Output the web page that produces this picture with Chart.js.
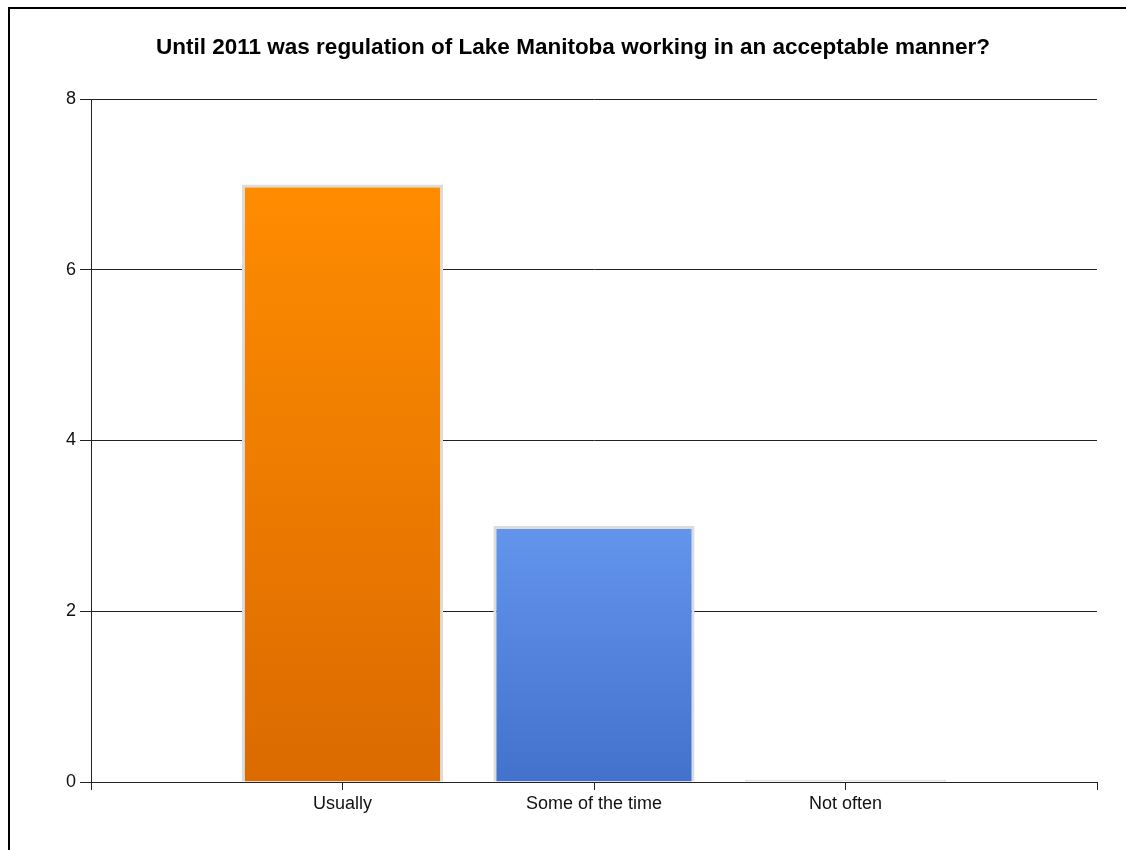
<!DOCTYPE html>
<html>
<head>
<meta charset="utf-8">
<script src="https://cdn.jsdelivr.net/npm/chart.js@4"></script>
<style>
    html, body { margin: 0; padding: 0; background: #fff; }
    #wrap { position: relative; width: 1126px; height: 850px; overflow: hidden; }
    #frame { position: absolute; left: 8px; top: 7px; right: -10px; bottom: -10px; border-left: 2px solid #000; border-top: 2px solid #000; }
    canvas { position: absolute; left: 0; top: 0; }
</style>
</head>
<body>
<div id="wrap">
    <canvas id="surveyChart" width="1126" height="850"></canvas>
    <div id="frame"></div>
</div>
<script>
const chartTitle = 'Until 2011 was regulation of Lake Manitoba working in an acceptable manner?';
const answers = ['', 'Usually', 'Some of the time', 'Not often', ''];
const counts = [null, 7, 3, 0, null];
const yTicks = [0, 2, 4, 6, 8];

// kolory gradientu: [góra, dół]
const barColors = [
    null,
    ['#ff8c00', '#db6a00'],
    ['#6495ed', '#4272cc'],
    ['#e0e0e0', '#e0e0e0'],
    null
];

document.addEventListener("DOMContentLoaded", function () {
    const ctx = document.getElementById("surveyChart").getContext('2d');

    function barGradient(context) {
        const chart = context.chart;
        const pair = barColors[context.dataIndex];
        if (!pair) return 'transparent';
        const value = context.raw;
        if (!chart.chartArea || value === null) return pair[0];
        const yScale = chart.scales.y;
        const top = yScale.getPixelForValue(value);
        const base = yScale.getPixelForValue(0);
        if (base - top < 1) return pair[0];
        const g = chart.ctx.createLinearGradient(0, top, 0, base);
        g.addColorStop(0, pair[0]);
        g.addColorStop(1, pair[1]);
        return g;
    }

    new Chart(ctx, {
        type: 'bar',
        data: {
            labels: answers,
            datasets: [{
                data: counts,
                backgroundColor: barGradient,
                borderColor: '#dcdcdc',
                borderWidth: 3,
                borderSkipped: 'start',
                minBarLength: 2,
                categoryPercentage: 1,
                barPercentage: 0.8
            }]
        },
        options: {
            responsive: false,
            animation: false,
            layout: { padding: { left: 49, right: 29, top: 0, bottom: 0 } },
            plugins: {
                legend: { display: false },
                tooltip: { enabled: false },
                title: {
                    display: true,
                    text: chartTitle,
                    color: '#000',
                    font: { family: 'Liberation Sans, Arial, sans-serif', size: 22.5, weight: 'bold' },
                    padding: { top: 34, bottom: 38 }
                }
            },
            scales: {
                x: {
                    offset: false,
                    grid: {
                        offset: false,
                        drawOnChartArea: false,
                        color: '#222',
                        tickLength: 8
                    },
                    border: { display: true, color: '#222', width: 1 },
                    ticks: {
                        color: '#111',
                        padding: 3,
                        maxRotation: 0,
                        autoSkip: false,
                        font: { family: 'Liberation Sans, Arial, sans-serif', size: 18 }
                    },
                    afterFit: function (scale) { scale.height = 68; }
                },
                y: {
                    min: 0,
                    max: 8,
                    afterBuildTicks: function (scale) {
                        scale.ticks = yTicks.map(v => ({ value: v }));
                    },
                    grid: {
                        color: '#222',
                        tickLength: 11
                    },
                    border: { display: true, color: '#222', width: 1 },
                    ticks: {
                        color: '#111',
                        padding: 4,
                        font: { family: 'Liberation Sans, Arial, sans-serif', size: 18 }
                    },
                    afterFit: function (scale) { scale.width = 42; }
                }
            }
        }
    });
});
</script>
</body>
</html>
